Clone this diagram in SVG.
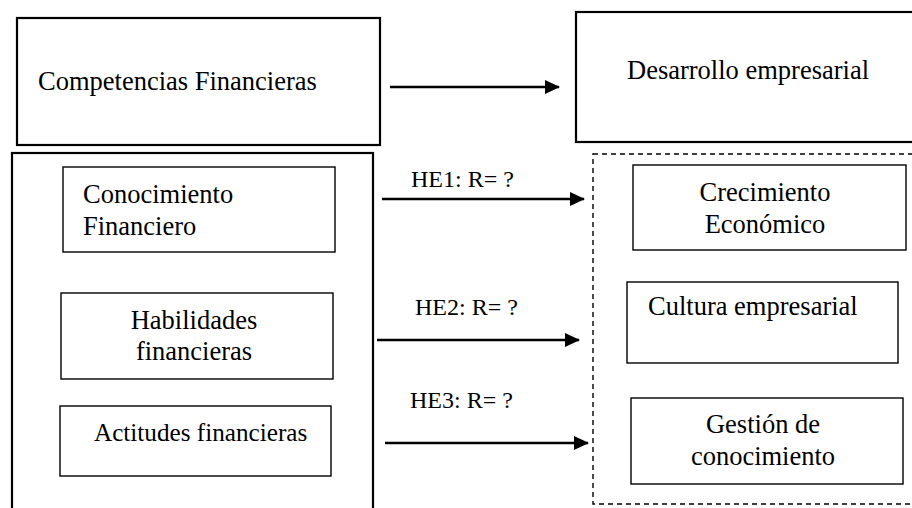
<svg xmlns="http://www.w3.org/2000/svg" width="912" height="508" viewBox="0 0 912 508">
<defs>
<marker id="ah" markerWidth="15" markerHeight="14" refX="14" refY="7" orient="auto" markerUnits="userSpaceOnUse">
<path d="M0,0 L15,7 L0,14 Z" fill="#000"/>
</marker>
<style>
.bx{fill:#fff;stroke:#000;stroke-width:2.2}
.in{fill:#fff;stroke:#000;stroke-width:1.4}
.ds{fill:none;stroke:#000;stroke-width:1.4;stroke-dasharray:5,4}
text{font-family:"Liberation Serif","Times New Roman",serif;font-size:26.5px;fill:#000}
.c{text-anchor:middle}
.lb{font-size:24px}
.ln{stroke:#000;stroke-width:2.4;fill:none;marker-end:url(#ah)}
</style>
</defs>
<rect width="912" height="508" fill="#fff"/>
<g id="competencias">
<rect class="bx" x="17" y="18" width="363" height="127"/>
<text x="38" y="90">Competencias Financieras</text>
</g>
<g id="desarrollo">
<rect class="bx" x="576" y="12" width="345" height="130"/>
<text x="627" y="79">Desarrollo empresarial</text>
</g>
<g id="grupo-izq">
<rect class="bx" x="12" y="153" width="361" height="370"/>
</g>
<g id="conocimiento">
<rect class="in" x="63" y="167" width="272" height="85"/>
<text x="83" y="203">Conocimiento</text>
<text x="83" y="235">Financiero</text>
</g>
<g id="habilidades">
<rect class="in" x="61" y="293" width="272" height="86"/>
<text class="c" x="194" y="329">Habilidades</text>
<text class="c" x="194" y="360">financieras</text>
</g>
<g id="actitudes">
<rect class="in" x="60" y="406" width="271" height="70"/>
<text x="94" y="441" style="font-size:25.2px">Actitudes financieras</text>
</g>
<g id="grupo-der">
<rect class="ds" x="593" y="154" width="330" height="350"/>
</g>
<g id="crecimiento">
<rect class="in" x="633" y="165" width="273" height="85"/>
<text class="c" x="765" y="201">Crecimiento</text>
<text class="c" x="765" y="233">Económico</text>
</g>
<g id="cultura">
<rect class="in" x="627" y="282" width="271" height="81"/>
<text x="648" y="315">Cultura empresarial</text>
</g>
<g id="gestion">
<rect class="in" x="631" y="398" width="272" height="86"/>
<text class="c" x="763" y="433">Gestión de</text>
<text class="c" x="763" y="465">conocimiento</text>
</g>
<g id="connectors">
<line class="ln" x1="390" y1="87" x2="559" y2="87"/>
<line class="ln" x1="382" y1="199" x2="584" y2="199"/>
<line class="ln" x1="377" y1="340" x2="579" y2="340"/>
<line class="ln" x1="385" y1="443" x2="588" y2="443"/>
<text class="lb" x="411" y="187">HE1: R= ?</text>
<text class="lb" x="415" y="315">HE2: R= ?</text>
<text class="lb" x="410" y="408">HE3: R= ?</text>
</g>
</svg>
